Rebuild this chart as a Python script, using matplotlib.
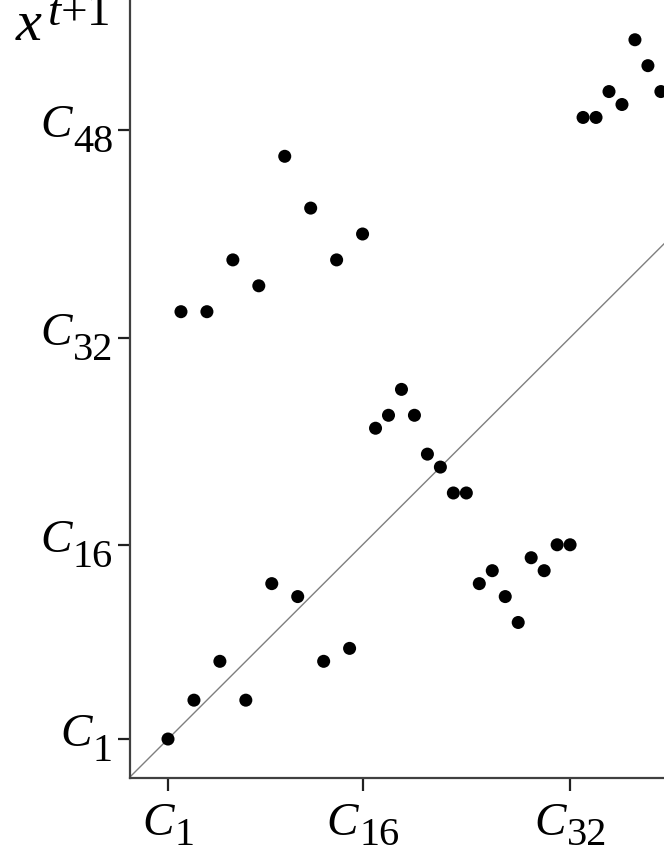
import matplotlib
matplotlib.use("Agg")
import matplotlib.pyplot as plt
from matplotlib.transforms import ScaledTranslation

plt.rcParams['mathtext.fontset'] = 'custom'
plt.rcParams['mathtext.it'] = 'Liberation Serif:italic'

# state index at time t and at time t+1
x_t = [1, 3, 5, 7, 9, 11, 13, 15,
       2, 4, 6, 8, 10, 12, 14, 16,
       17, 18, 19, 20, 21, 22, 23, 24,
       25, 26, 27, 28, 29, 30, 31, 32,
       33, 34, 35, 36, 37, 38, 39]
x_t1 = [1, 4, 7, 4, 13, 12, 7, 8,
        34, 34, 38, 36, 46, 42, 38, 40,
        25, 26, 28, 26, 23, 22, 20, 20,
        13, 14, 12, 10, 15, 14, 16, 16,
        49, 49, 51, 50, 55, 53, 51]

x_ticks = [1, 16, 32]
x_tick_subs = ['1', '16', '32']
y_ticks = [1, 16, 32, 48]
y_tick_subs = ['1', '16', '32', '48']

W, H = 664, 860
fig = plt.figure(figsize=(W / 100, H / 100), dpi=100)
ax = fig.add_axes([130 / W, 82 / H, 1 - 130 / W, 1 - 82 / H])
renderer = fig.canvas.get_renderer()

ax.axline((0, 0), slope=1, color='#7f7f7f', lw=1.0, zorder=1)
ax.scatter(x_t, x_t1, s=88, color='black', edgecolors='none', zorder=2)

ax.set_xlim(-1.93, 39.24)
ax.set_ylim(-2.01, 58.07)

for side in ['top', 'right']:
    ax.spines[side].set_visible(False)
for side in ['left', 'bottom']:
    ax.spines[side].set_linewidth(1.6)
    ax.spines[side].set_color('#404040')

ax.set_xticks(x_ticks)
ax.set_yticks(y_ticks)
ax.tick_params(axis='both', length=9, width=1.6, color='#202020',
               labelleft=False, labelbottom=False)

# tick labels look like equation-editor C with a big, dropped subscript,
# so they are built from two texts each
c_font = dict(family='Liberation Serif', style='italic', size=34, color='black')
sub_font = dict(family='Liberation Serif', size=29, color='black')


def px(dx, dy):
    return ScaledTranslation(dx / fig.dpi, dy / fig.dpi, fig.dpi_scale_trans)


def text_width(s, font):
    t = fig.text(0, 0, s, **font)
    w = t.get_window_extent(renderer).width
    t.remove()
    return w


w_c = text_width('C', c_font)

ytrans = ax.get_yaxis_transform()
for v, sub in zip(y_ticks, y_tick_subs):
    w_sub = text_width(sub, sub_font)
    ax.text(0, v, sub, transform=ytrans + px(-17, -22),
            ha='right', va='baseline', **sub_font)
    ax.text(0, v, 'C', transform=ytrans + px(-18 - w_sub, -7),
            ha='right', va='baseline', **c_font)

xtrans = ax.get_xaxis_transform()
for v, sub in zip(x_ticks, x_tick_subs):
    w_sub = text_width(sub, sub_font)
    left = -(w_c + w_sub) / 2
    ax.text(v, 0, 'C', transform=xtrans + px(left, -57),
            ha='left', va='baseline', **c_font)
    ax.text(v, 0, sub, transform=xtrans + px(left + w_c + 1, -67),
            ha='left', va='baseline', **sub_font)

# variable name at the top of the y axis: big x, smaller superscript
fig.text(16 / W, 1 - 40 / H, 'x', family='Liberation Serif', style='italic',
         size=42, ha='left', va='baseline')
fig.text(47 / W, 1 - 25 / H, r'$t$+1', fontsize=34, ha='left', va='baseline',
         family='Liberation Serif')

fig.savefig('out.png', dpi=100)
